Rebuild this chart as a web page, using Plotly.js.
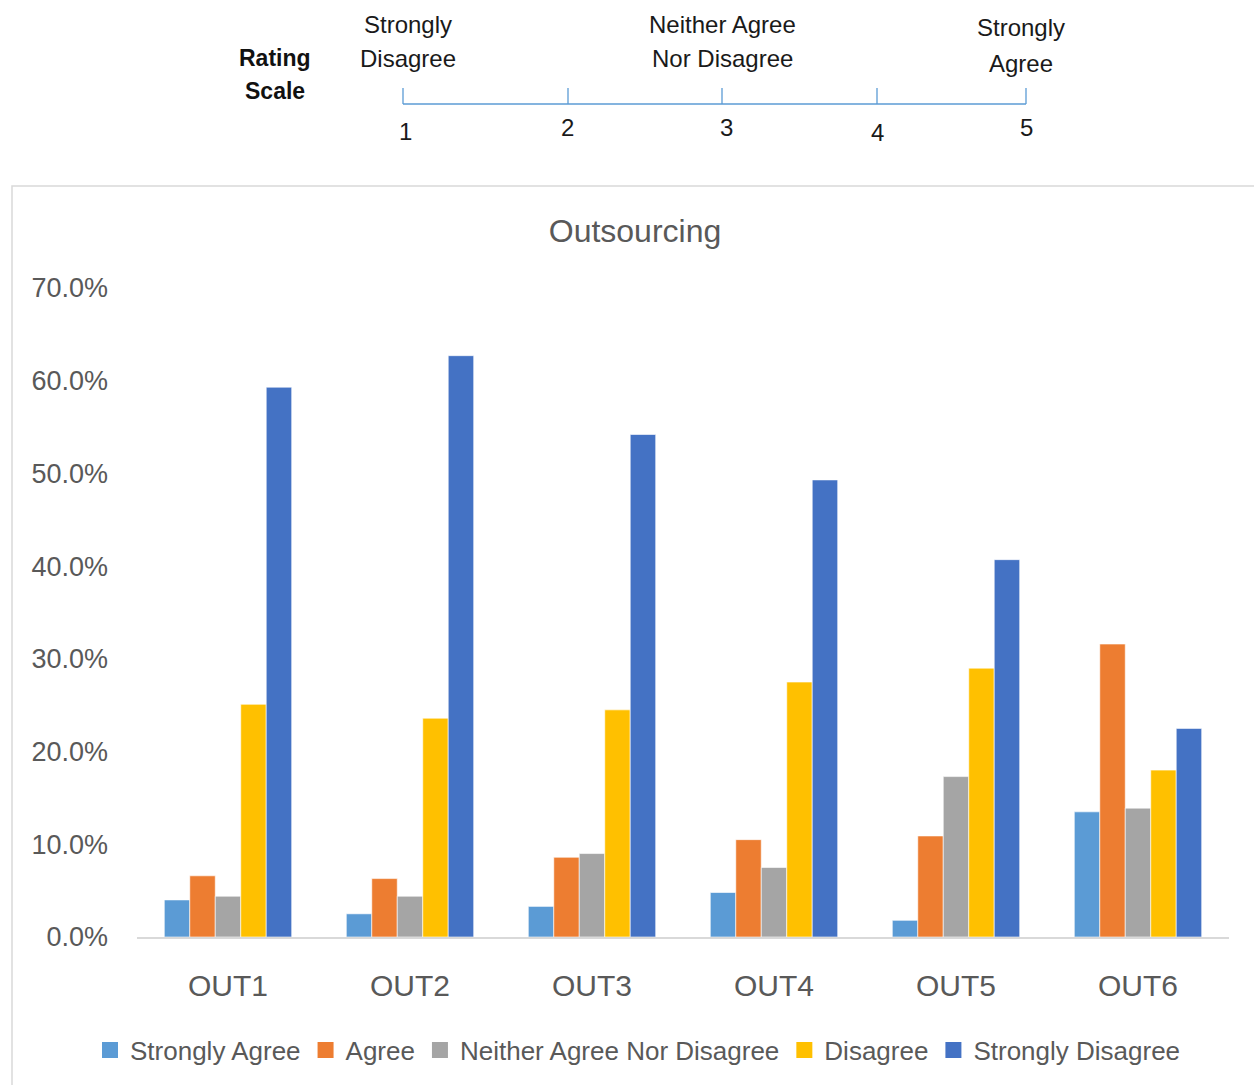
<!DOCTYPE html>
<html>
<head>
<meta charset="utf-8">
<script src="https://cdn.plot.ly/plotly-3.0.1.min.js"></script>
<style>
  html, body { margin: 0; padding: 0; background: #ffffff; }
  #chart { width: 1254px; height: 1085px; }
</style>
</head>
<body>
<div id="chart"></div>
<script>
// Survey items and response shares (%)
const categories = ["OUT1", "OUT2", "OUT3", "OUT4", "OUT5", "OUT6"];
const seriesNames = ["Strongly Agree", "Agree", "Neither Agree Nor Disagree", "Disagree", "Strongly Disagree"];
const stronglyAgree    = [4.0, 2.5, 3.3, 4.8, 1.8, 13.5];
const agree            = [6.6, 6.3, 8.6, 10.5, 10.9, 31.6];
const neither          = [4.4, 4.4, 9.0, 7.5, 17.3, 13.9];
const disagree         = [25.1, 23.6, 24.5, 27.5, 29.0, 18.0];
const stronglyDisagree = [59.3, 62.7, 54.2, 49.3, 40.7, 22.5];
const seriesColors = ["#5b9bd5", "#ed7d31", "#a5a5a5", "#ffc000", "#4472c4"];

// Rating scale legend shown above the chart
const scalePoints = ["1", "2", "3", "4", "5"];
const scaleLabels = [["Strongly", "Disagree"], ["Neither Agree", "Nor Disagree"], ["Strongly", "Agree"]];

const W = 1254, H = 1085;
const M = { l: 137, r: 25, t: 288, b: 148 };
const plotW = W - M.l - M.r, plotH = H - M.t - M.b;
// pixel -> paper coordinate helpers
const px = x => (x - M.l) / plotW;
const py = y => (H - M.b - y) / plotH;

const FONT = "Liberation Sans, Arial, sans-serif";
const GREY = "#595959";

const seriesValues = [stronglyAgree, agree, neither, disagree, stronglyDisagree];
const traces = seriesValues.map((vals, i) => ({
  type: "bar",
  name: seriesNames[i],
  legendgroup: seriesNames[i],
  showlegend: false,
  x: categories,
  y: vals,
  marker: { color: seriesColors[i], line: { color: "rgba(255,255,255,0.6)", width: 1 } },
  hoverinfo: "x+y+name"
}));
// legend keys with larger square swatches
seriesNames.forEach((name, i) => traces.push({
  type: "scatter", mode: "markers",
  name: name, legendgroup: name,
  x: [categories[0]], y: [null],
  marker: { symbol: "square", size: 16, color: seriesColors[i] },
  hoverinfo: "skip", showlegend: true
}));

const shapes = [];
const annotations = [];

// outer chart frame
shapes.push({ type: "rect", xref: "paper", yref: "paper",
  x0: px(12), x1: px(1256), y0: py(186), y1: py(1090),
  line: { color: "#d9d9d9", width: 1.5 }, fillcolor: "rgba(0,0,0,0)", layer: "below" });

// rating scale axis line and ticks
const scaleLineColor = "#5b9bd5";
const tickX = [403, 568, 722, 877, 1026];
shapes.push({ type: "line", xref: "paper", yref: "paper",
  x0: px(403), x1: px(1026), y0: py(104), y1: py(104),
  line: { color: scaleLineColor, width: 1.3 } });
tickX.forEach(x => shapes.push({ type: "line", xref: "paper", yref: "paper",
  x0: px(x), x1: px(x), y0: py(104), y1: py(88),
  line: { color: scaleLineColor, width: 1.3 } }));

// scale numbers
const numY = [131, 128, 128, 133, 128];
const numX = [405, 567, 726, 877, 1026];
scalePoints.forEach((t, i) => annotations.push({
  xref: "paper", yref: "paper", x: px(numX[i]), y: py(numY[i]),
  text: t, showarrow: false, xanchor: "center", yanchor: "middle",
  font: { family: FONT, size: 24, color: "#1a1a1a" } }));

// scale end/middle labels
const labelX = [408, 722, 1021];
const labelY = [[24, 58], [24, 58], [28, 63]];
scaleLabels.forEach((lines, i) => lines.forEach((t, j) => annotations.push({
  xref: "paper", yref: "paper", x: px(labelX[i]), y: py(labelY[i][j]),
  text: t, showarrow: false, xanchor: "center", yanchor: "middle",
  font: { family: FONT, size: 24, color: "#1a1a1a" } })));

// "Rating Scale" heading
[["Rating", 58], ["Scale", 91]].forEach(([t, y]) => annotations.push({
  xref: "paper", yref: "paper", x: px(275), y: py(y),
  text: "<b>" + t + "</b>", showarrow: false, xanchor: "center", yanchor: "middle",
  font: { family: FONT, size: 23, color: "#111111" } }));

const layout = {
  width: W, height: H,
  margin: M,
  paper_bgcolor: "#ffffff",
  plot_bgcolor: "#ffffff",
  title: {
    text: "Outsourcing",
    xref: "container", yref: "container",
    x: 635 / W, y: 1 - 231 / H, xanchor: "center", yanchor: "middle",
    font: { family: FONT, size: 32, color: GREY }
  },
  barmode: "group",
  bargap: 0.30,
  bargroupgap: 0,
  xaxis: {
    type: "category",
    showgrid: false,
    showline: true, linecolor: "#d9d9d9", linewidth: 2,
    ticks: "", ticklabelstandoff: 21,
    tickfont: { family: FONT, size: 30, color: GREY },
    zeroline: false
  },
  yaxis: {
    range: [0, 70],
    dtick: 10,
    tickformat: ".1f", ticksuffix: "%",
    showgrid: false, zeroline: false, showline: false,
    ticks: "", ticklabelstandoff: 28,
    tickfont: { family: FONT, size: 27, color: GREY }
  },
  showlegend: true,
  legend: {
    orientation: "h",
    x: px(638), xanchor: "center",
    y: py(1050), yanchor: "middle",
    font: { family: FONT, size: 26, color: GREY },
    itemwidth: 30,
    traceorder: "normal",
    bgcolor: "rgba(0,0,0,0)"
  },
  shapes: shapes,
  annotations: annotations
};

Plotly.newPlot("chart", traces, layout, { displayModeBar: false, responsive: false });
</script>
</body>
</html>
